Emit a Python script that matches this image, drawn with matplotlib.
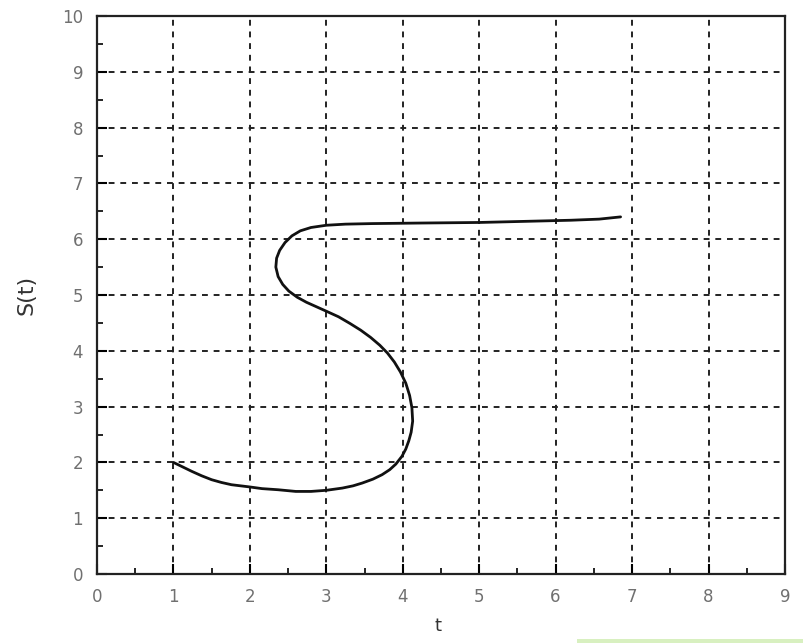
import matplotlib.pyplot as plt
from matplotlib.ticker import MultipleLocator
from matplotlib.patches import Rectangle

# S(t) trajectory, read as (t, S) pairs along the curve
t_vals = [1.00, 1.12, 1.24, 1.37, 1.50, 1.63, 1.76, 1.88, 2.00, 2.16, 2.37,
          2.60, 2.80, 3.00, 3.21, 3.35, 3.47, 3.61, 3.73, 3.83, 3.91, 3.99,
          4.04, 4.08, 4.11, 4.13, 4.12, 4.09, 4.04, 3.97, 3.89, 3.80, 3.70,
          3.58, 3.45, 3.31, 3.16, 3.00, 2.87, 2.74, 2.62, 2.51, 2.43, 2.37,
          2.34, 2.35, 2.39, 2.46, 2.55, 2.66, 2.80, 3.00, 3.25, 3.60, 4.25,
          5.00, 5.60, 6.20, 6.57, 6.85]
s_vals = [2.00, 1.92, 1.84, 1.76, 1.69, 1.64, 1.60, 1.58, 1.56, 1.53, 1.51,
          1.48, 1.48, 1.50, 1.54, 1.58, 1.63, 1.70, 1.78, 1.87, 1.97, 2.11,
          2.24, 2.39, 2.54, 2.74, 2.98, 3.20, 3.42, 3.62, 3.80, 3.96, 4.10,
          4.24, 4.37, 4.49, 4.61, 4.71, 4.79, 4.87, 4.96, 5.07, 5.19, 5.33,
          5.50, 5.66, 5.80, 5.94, 6.06, 6.15, 6.21, 6.25, 6.27, 6.28, 6.29,
          6.30, 6.32, 6.34, 6.36, 6.40]

x_ticks = list(range(0, 10))
y_ticks = list(range(0, 11))

fig = plt.figure(figsize=(8.04, 6.43), dpi=100)
ax = fig.add_axes([0.1206, 0.1073, 0.8557, 0.8678])

ax.plot(t_vals, s_vals, color='#111111', linewidth=2.0,
        solid_capstyle='round', solid_joinstyle='round')

ax.set_xlim(0, 9)
ax.set_ylim(0, 10)
ax.set_xticks(x_ticks)
ax.set_yticks(y_ticks)
ax.xaxis.set_minor_locator(MultipleLocator(0.5))
ax.yaxis.set_minor_locator(MultipleLocator(0.5))

ax.grid(True, which='major', color='#222222', linestyle=(0, (3, 3)), linewidth=1.4)
ax.tick_params(which='major', direction='in', length=7, width=1.5,
               labelsize=12, labelcolor='#707070', pad=10)
ax.tick_params(which='minor', direction='in', length=4, width=1.2)
for side in ax.spines.values():
    side.set_linewidth(1.6)
    side.set_color('#222222')

ax.set_ylabel('S(t)', fontsize=16, color='#333333', labelpad=18)
fig.text(0.545, 0.027, 't', fontsize=13, color='#333333', ha='center', va='center')

# faint green strip along the lower right edge
fig.add_artist(Rectangle((0.718, 0.0), 0.282, 0.006, transform=fig.transFigure,
                         facecolor='#d8f0c0', edgecolor='none'))

fig.savefig('out.png', dpi=100)
